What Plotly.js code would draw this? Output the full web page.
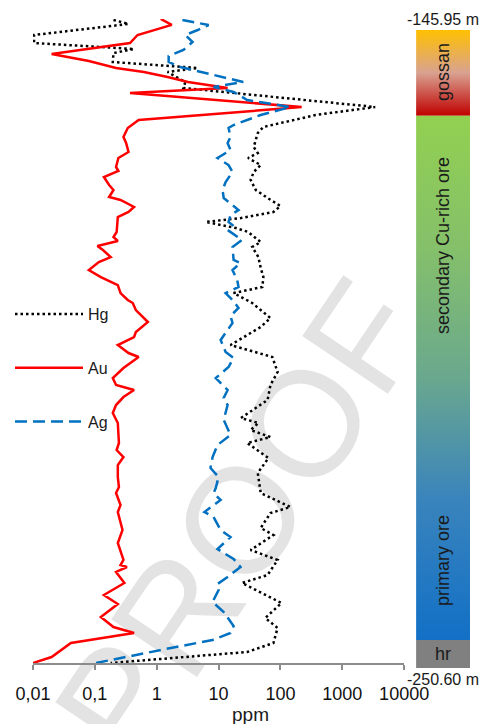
<!DOCTYPE html>
<html><head><meta charset="utf-8">
<script src="https://cdn.plot.ly/plotly-3.0.1.min.js"></script>
<style>
html,body{margin:0;padding:0;background:#fff;}
#wrap{position:relative;width:481px;height:724px;overflow:hidden;}
#wm{position:absolute;left:240px;top:520px;font-family:"Liberation Sans",Arial,sans-serif;font-size:150px;color:#e3e3e3;transform:translate(-50%,-50%) rotate(-56deg);white-space:nowrap;line-height:1;z-index:0;}
#chart{position:absolute;left:0;top:0;width:481px;height:724px;z-index:1;}
</style></head>
<body><div id="wrap"><div id="wm">PROOF</div><div id="chart"></div></div>
<script>
// ---- data (depth in m, concentration in ppm) ----
const auDepth = [-145.95,-146.9,-148.55,-149.85,-151.64,-152.78,-153.91,-154.56,-155.38,-156.19,
  -157.16,-157.98,-160.25,-162.36,-163.66,-165.13,-166.1,-167.56,-168.54,-170.0,
  -170.65,-171.63,-172.93,-173.74,-174.88,-175.36,-176.5,-177.31,-178.13,-180.56,
  -181.38,-182.03,-182.84,-183.49,-184.63,-185.44,-186.74,-187.88,-189.18,-190.48,
  -191.61,-192.1,-193.24,-195.19,-196.81,-197.63,-198.93,-200.23,-200.88,-202.66,
  -204.29,-205.43,-206.24,-207.38,-208.68,-209.98,-211.6,-214.85,-215.99,-217.13,
  -218.43,-220.38,-222.0,-222.98,-224.93,-226.06,-228.99,-231.1,-233.86,-234.68,
  -235.0,-235.81,-237.6,-239.55,-241.01,-243.13,-244.75,-245.73,-247.35,-248.16,
  -249.63,-250.6];
const auPpm = [1.16,1.75,0.49,0.37,0.02,0.08,0.22,0.62,1.5,3.2,
  14,0.37,220,0.51,0.34,0.29,0.32,0.35,0.24,0.22,
  0.24,0.14,0.17,0.2,0.17,0.26,0.43,0.35,0.235,0.225,
  0.2,0.235,0.11,0.135,0.18,0.116,0.08,0.125,0.235,0.26,
  0.34,0.41,0.46,0.72,0.46,0.43,0.235,0.35,0.51,0.29,
  0.195,0.22,0.43,0.29,0.22,0.195,0.235,0.245,0.225,0.29,
  0.235,0.235,0.245,0.22,0.26,0.235,0.28,0.235,0.29,0.26,
  0.33,0.22,0.3,0.14,0.235,0.125,0.2,0.43,0.041,0.032,
  0.02,0.01];

const hgDepth = [-146.11,-146.76,-148.55,-149.85,-150.83,-151.48,-152.94,-153.91,-154.56,-156.19,
  -157.16,-160.25,-161.55,-163.5,-164.48,-166.75,-167.73,-168.54,-169.68,-170.81,
  -172.11,-173.74,-175.04,-176.34,-177.31,-178.29,-178.94,-179.91,-180.56,-182.19,
  -183.0,-184.63,-186.41,-187.88,-189.5,-190.48,-192.1,-194.54,-196.0,-198.93,
  -199.41,-200.88,-203.31,-205.43,-207.86,-210.79,-211.6,-212.74,-213.88,-214.85,
  -217.29,-219.73,-222.98,-225.25,-226.23,-228.66,-229.8,-232.24,-233.86,-236.3,
  -237.6,-240.85,-243.29,-244.91,-247.35,-248.81,-250.6];
const hgPpm = [0.2,0.35,0.0104,0.0104,0.43,0.2,0.195,4.6,1.5,2.9,
  2.7,3400,370,53,43,37,43,30,48,37,
  33,40,62,100,77,23,6.2,19,30,48,
  35,44,48,53,51,17.5,35,69,48,15.6,
  23,74,90,69,62,23,44,33,69,29,
  64,43,48,145,69,48,77,33,90,62,
  24,104,57,90,77,29,0.18];

const agDepth = [-146.11,-146.93,-147.74,-148.55,-149.69,-150.99,-151.96,-152.94,-153.75,-154.56,
  -156.19,-157.0,-157.81,-159.11,-160.25,-161.55,-163.18,-163.66,-165.13,-166.1,
  -167.24,-168.54,-169.68,-170.81,-172.44,-173.74,-175.04,-176.99,-177.8,-178.94,
  -179.43,-180.24,-181.86,-183.0,-185.11,-185.6,-186.74,-188.36,-189.5,-190.48,
  -191.61,-192.91,-194.21,-195.35,-198.11,-200.06,-201.04,-202.5,-204.29,-205.43,
  -206.24,-207.54,-208.68,-211.11,-213.55,-215.18,-217.13,-218.91,-220.38,-222.16,
  -222.98,-224.11,-226.06,-226.88,-228.99,-230.13,-232.08,-233.7,-235.0,-236.63,
  -237.76,-238.74,-240.69,-242.31,-244.59,-245.73,-246.86,-248.16,-249.63,-250.6];
const agPpm = [2.6,6.9,4.6,2.9,3.8,2.7,1.56,1.56,2.4,5.1,
  25,8.3,17.5,29,145,48,17.5,14.5,15.6,14,
  15.6,9.6,14.5,16.8,13,11.6,12.1,21,15.6,14.5,
  16.8,14,24,16.8,17.5,22.6,16.8,20,21,13,
  16.8,21,15.6,16.8,10.8,13,17.5,14.5,9,11.6,
  14,12.1,14,12.1,15.6,9.6,8,7.4,10,9,
  8.3,10.8,5.9,8.3,10.8,15.6,9.6,17.5,22.6,14,
  9.6,10,8,12.1,17.5,15.6,8,1.7,0.29,0.104];

const tickVals = [0.01,0.1,1,10,100,1000,10000];
const tickText = ['0,01','0,1','1','10','100','1000','10000'];

const zoneNames  = ['gossan','secondary Cu-rich ore','primary ore','hr'];
const zoneTop    = [-145.95,-160.0,-205.0,-246.0];
const zoneBottom = [-160.0,-205.0,-246.0,-250.6];
const sectionTop = -145.95, sectionBottom = -250.6;

// ---- styling ----
const F = '"Liberation Sans", Arial, Helvetica, sans-serif';
const gossanScale = [[0,'#C00000'],[0.5,'#D9A291'],[1,'#FFC000']];
const oreScale = [[0,'#1270C6'],[0.27,'#3A84BC'],[0.5,'#6AA88E'],[0.75,'#85C06A'],[1,'#92D050']];
const zoneFill = [
  {type:'vertical', colorscale:gossanScale, start:zoneBottom[0], stop:zoneTop[0]},
  {type:'vertical', colorscale:oreScale, start:zoneBottom[2], stop:zoneTop[1]},
  {type:'vertical', colorscale:oreScale, start:zoneBottom[2], stop:zoneTop[1]},
  null
];
const zoneLabelAngle = [-90,-90,-90,0];

const traces = [
  {x:hgPpm, y:hgDepth, name:'Hg', legendgroup:'hg', mode:'lines', hoverinfo:'skip',
   line:{color:'#000000', width:2.5, dash:'2.5px,3px'}},
  {x:auPpm, y:auDepth, name:'Au', legendgroup:'au', mode:'lines', hoverinfo:'skip',
   line:{color:'#FF0000', width:2.5}},
  {x:agPpm, y:agDepth, name:'Ag', legendgroup:'ag', mode:'lines', hoverinfo:'skip',
   line:{color:'#0070C0', width:2.5, dash:'12px,6px'}}
];

const annotations = [];
zoneNames.forEach((nm,i)=>{
  const t = {x:[0,1,1,0,0], y:[zoneTop[i],zoneTop[i],zoneBottom[i],zoneBottom[i],zoneTop[i]],
    xaxis:'x2', yaxis:'y2', mode:'lines', fill:'toself', line:{width:0}, showlegend:false, hoverinfo:'skip'};
  if (zoneFill[i]) t.fillgradient = zoneFill[i]; else t.fillcolor = '#808080';
  traces.push(t);
});
// zone labels: placed at the visual centre used in the figure
const zoneLabelDepth = [-152.84, -181.38, -233.04, -248.3];
zoneNames.forEach((nm,i)=>{
  annotations.push({text:nm, xref:'x2', yref:'y2', x:0.5, y:zoneLabelDepth[i], textangle:zoneLabelAngle[i],
    showarrow:false, font:{family:F, size:18, color:'#1a1a1a'}, xanchor:'center', yanchor:'middle'});
});
annotations.push({text:sectionTop.toFixed(2)+' m', xref:'x2', yref:'y2', x:0.5, y:sectionTop, yanchor:'bottom', yshift:0,
  showarrow:false, font:{family:F, size:16, color:'#1a1a1a'}});
annotations.push({text:sectionBottom.toFixed(2)+' m', xref:'x2', yref:'y2', x:0.5, y:sectionBottom, yanchor:'top', yshift:-1,
  showarrow:false, font:{family:F, size:16, color:'#1a1a1a'}});
annotations.push({text:'ppm', xref:'paper', yref:'paper', x:0.4977, y:-0.0709, xanchor:'center', yanchor:'middle',
  showarrow:false, font:{family:F, size:19, color:'#1a1a1a'}});

const layout = {
  width:481, height:724,
  margin:{l:32, r:11, t:19, b:56, pad:0},
  paper_bgcolor:'rgba(0,0,0,0)', plot_bgcolor:'rgba(0,0,0,0)',
  font:{family:F, size:16, color:'#1a1a1a'},
  xaxis:{type:'log', range:[-2,4], domain:[0,372/438], tickmode:'array', tickvals:tickVals, ticktext:tickText,
    showline:true, linecolor:'#8c8c8c', linewidth:2, ticks:'outside', ticklen:5, tickwidth:2, tickcolor:'#8c8c8c',
    showgrid:false, zeroline:false, tickfont:{family:F, size:18, color:'#111'}, ticklabelstandoff:8, fixedrange:true},
  yaxis:{range:[sectionBottom, sectionTop], domain:[5/649,1], visible:false, showgrid:false, zeroline:false, fixedrange:true},
  xaxis2:{range:[0,1], domain:[384/438,1], anchor:'y2', visible:false, showgrid:false, zeroline:false},
  yaxis2:{range:[sectionBottom, sectionTop], domain:[0,638/649], anchor:'x2', visible:false, showgrid:false, zeroline:false},
  showlegend:true,
  legend:{x:(10-32)/438, xanchor:'left', y:(668-297)/649, yanchor:'top', traceorder:'grouped', tracegroupgap:30,
    itemwidth:68, font:{family:F, size:16, color:'#1a1a1a'}, bgcolor:'rgba(0,0,0,0)', borderwidth:0},
  annotations:annotations
};

Plotly.newPlot('chart', traces, layout, {staticPlot:true, displayModeBar:false});
</script>
</body></html>
